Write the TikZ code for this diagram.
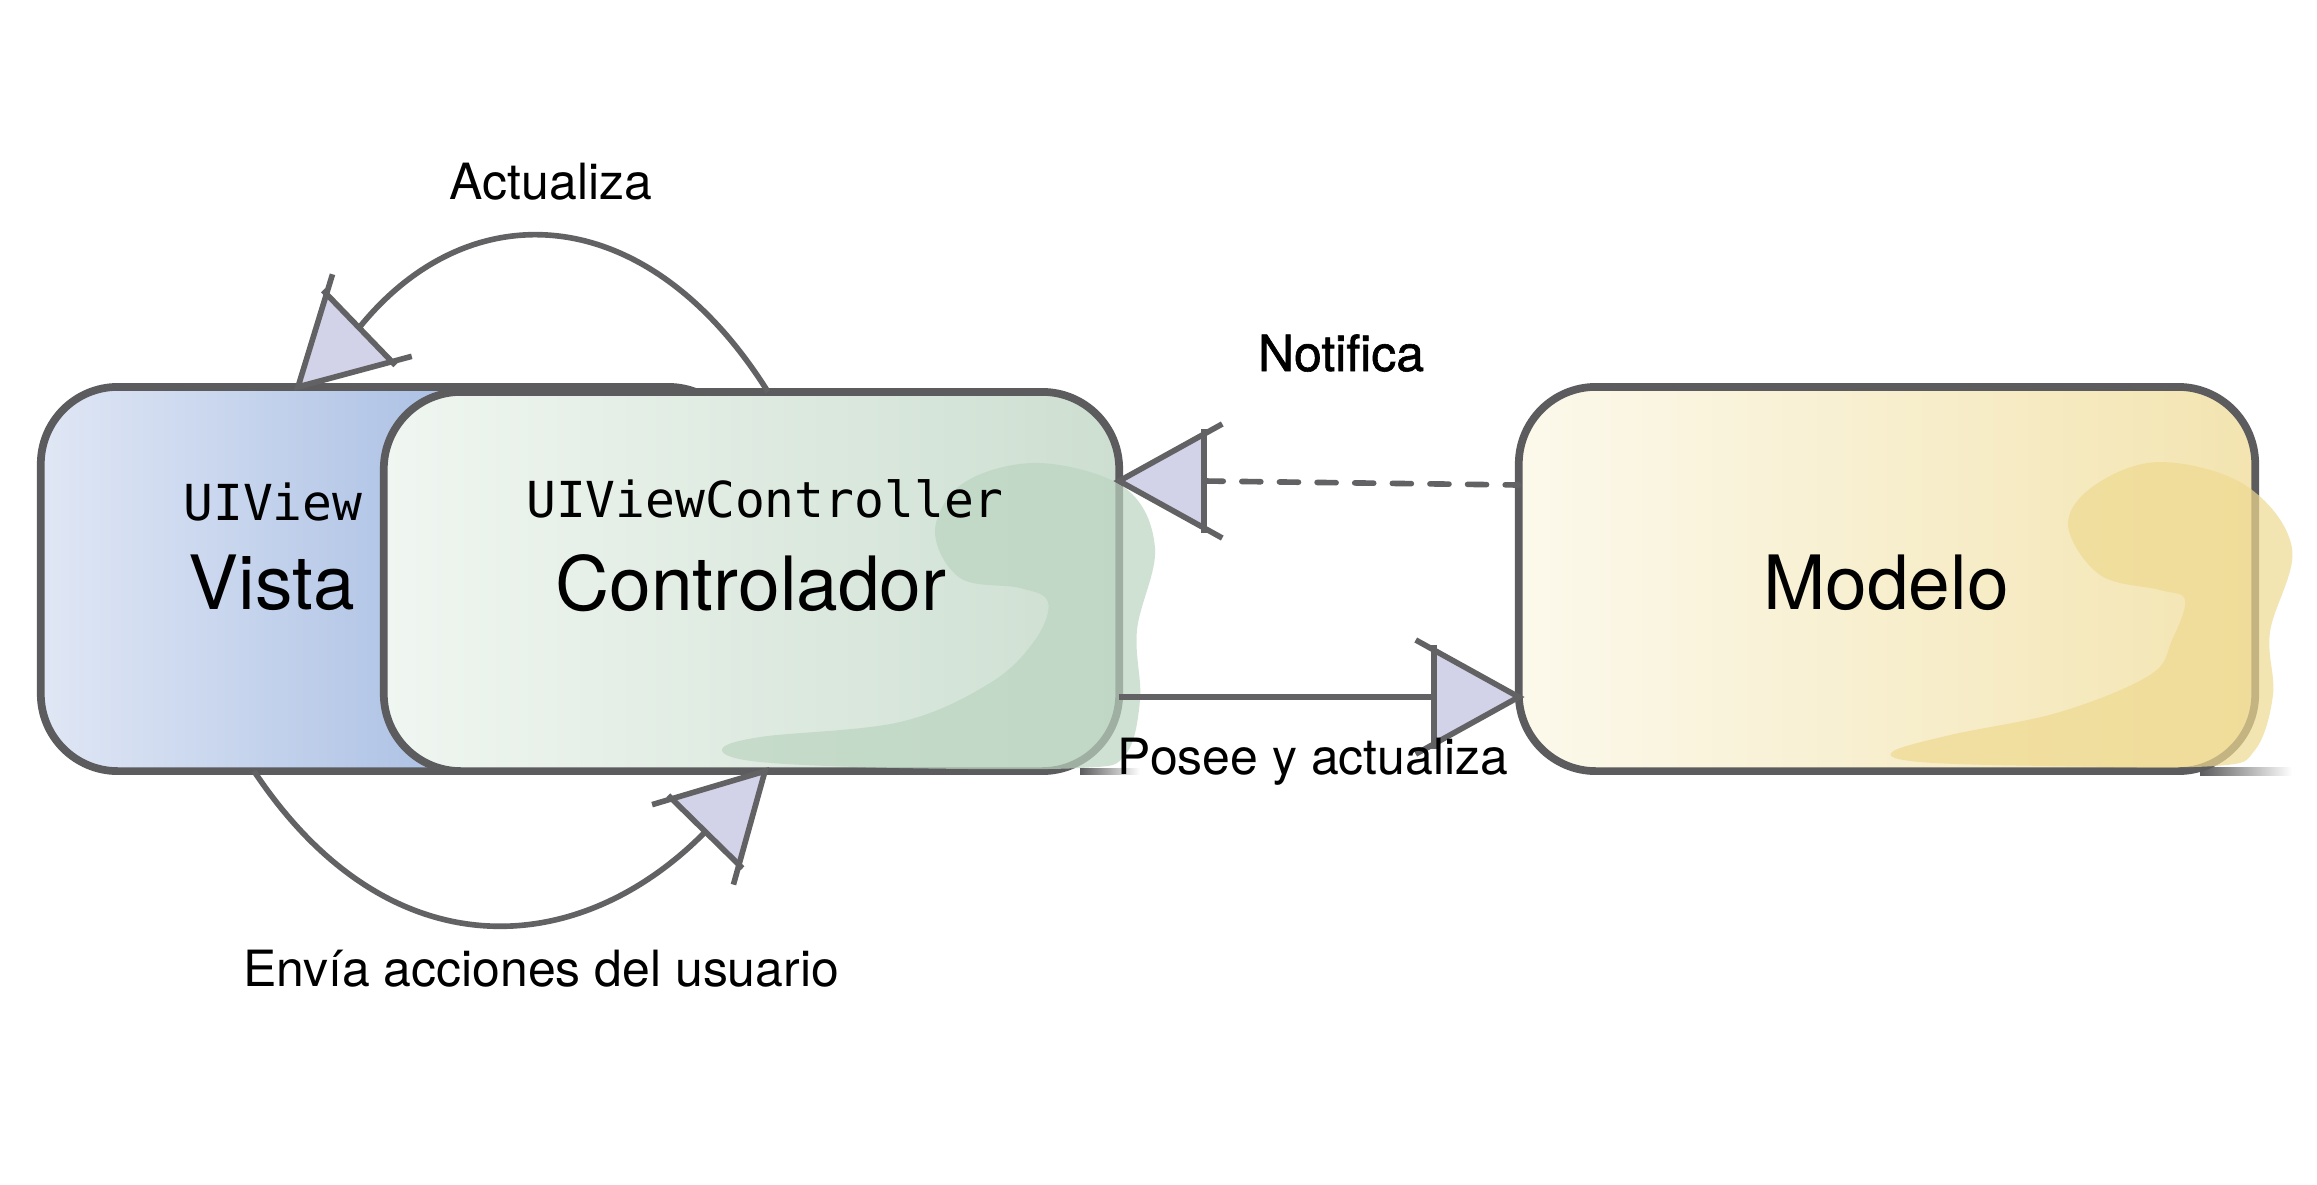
\documentclass[tikz,border=0pt]{standalone}
\usepackage{fontspec}
\setmainfont{TeX Gyre Heros}
\newfontfamily\medfont[FakeBold=1.2]{TeX Gyre Heros}
\newfontfamily\monofont{DejaVu Sans Mono}
\usetikzlibrary{calc}
\definecolor{boxc}{RGB}{92,92,94}
\definecolor{linec}{RGB}{98,98,100}
\definecolor{headfillc}{RGB}{210,210,232}
\definecolor{vistaL}{RGB}{224,231,245}
\definecolor{vistaR}{RGB}{134,165,216}
\definecolor{ctrlL}{RGB}{240,246,241}
\definecolor{ctrlR}{RGB}{205,223,209}
\definecolor{ctrlBlob}{RGB}{188,213,193}
\definecolor{modL}{RGB}{252,249,236}
\definecolor{modR}{RGB}{243,228,176}
\definecolor{modBlob}{RGB}{239,218,145}
\newcommand{\mvchead}[2]{%
  \begin{scope}[shift={(#1)}, rotate=#2]
    \fill[headfillc] (0,0) -- (-0.85cm,0.47cm) -- (-0.85cm,-0.47cm) -- cycle;
    \draw[arrline, line join=miter] (-1.03cm,0.57cm) -- (0,0) -- (-1.03cm,-0.57cm);
    \draw[arrline] (-0.85cm,0.52cm) -- (-0.85cm,-0.52cm);
  \end{scope}}
\begin{document}
\begin{tikzpicture}[x=0.01cm, y=-0.01cm,
  boxnode/.style={draw=boxc, line width=2.2pt, rounded corners=0.77cm, outer sep=0pt, inner sep=0pt},
  arrline/.style={draw=linec, line width=1.6pt},
  dashpat/.style={line cap=round, dash pattern=on 5.4pt off 5.3pt},
  bigtext/.style={font=\fontsize{21.3}{24}\selectfont, anchor=base, inner sep=0pt},
  smalltext/.style={font=\fontsize{14.2}{17}\selectfont, anchor=base, inner sep=0pt},
  monotext/.style={font=\monofont\fontsize{14.1}{17}\selectfont, anchor=base, inner sep=0pt}]
\useasboundingbox (0,0) rectangle (2317,1184);
\fill[white] (0,0) rectangle (2317,1184);

% boxes
\node[boxnode, left color=vistaL, right color=vistaR, minimum width=7.04cm, minimum height=3.84cm] (vista) at (393,579) {};
\node[boxnode, left color=ctrlL, right color=ctrlR, minimum width=7.35cm, minimum height=3.79cm] (ctrl) at (751.5,581.5) {};
\shade[left color=boxc, right color=white] (1080,768) rectangle (1140,774);
\fill[ctrlBlob, opacity=0.7] plot[smooth cycle, tension=0.6] coordinates {
  (1040,463) (1125,488) (1155,548) (1137,630) (1140,700) (1125,755) (1080,768) (900,768)
  (760,762) (722,750) (760,737) (900,722) (990,683) (1035,640) (1048,602) (1020,588)
  (960,578) (935,530) (965,482)};
\shade[left color=boxc, right color=white] (2200,767) rectangle (2292,775);
\node[boxnode, left color=modL, right color=modR, minimum width=7.36cm, minimum height=3.84cm] (modelo) at (1887,579) {};
\fill[modBlob, opacity=0.7] plot[smooth cycle, tension=0.6] coordinates {
  (2160,462) (2245,485) (2292,548) (2270,632) (2273,695) (2255,750) (2215,766) (2050,766)
  (1920,762) (1892,752) (1950,735) (2060,712) (2150,675) (2172,640) (2185,600) (2160,590)
  (2100,575) (2068,525) (2095,485)};

% connectors
\coordinate (aS) at (ctrl.north -| 768,0);
\coordinate (aT) at (vista.north -| 298,0);
\draw[arrline] (aS) .. controls (648,200) and (470,190) .. ($(aT)+(61,-59)$);
\mvchead{aT}{224}

\coordinate (eS) at (vista.south -| 254,0);
\coordinate (eT) at (ctrl.south -| 765,0);
\draw[arrline] (eS) .. controls (389,974) and (579,960) .. ($(eT)+(-60,61)$);
\mvchead{eT}{45.5}

\coordinate (pS) at (ctrl.east |- 0,697);
\coordinate (pT) at (modelo.west |- 0,697);
\draw[arrline] (pS) -- ($(pT)+(-85,0)$);
\mvchead{pT}{0}

\coordinate (nS) at (modelo.west |- 0,485);
\coordinate (nT) at (ctrl.east |- 0,481);
\draw[arrline, dashpat] ($(nT)+(85,0)$) -- (nS);
\mvchead{nT}{180}

% texts
\node[monotext] (tUIView) at (273,520) {UIView};
\node[bigtext] (tVista) at (272,609) {Vista};
\node[monotext] (tUIVC) at (765,517) {UIViewController};
\node[bigtext] (tCtrl) at (751,610) {Controlador};
\node[bigtext] (tModelo) at (1886,609) {Modelo};
\node[smalltext] (tAct) at (551,199) {Actualiza};
\node[smalltext, font=\medfont\fontsize{14.2}{17}\selectfont] (tNot) at (1341,371) {Notifica};
\node[smalltext] (tPos) at (1313,774) {Posee y actualiza};
\node[smalltext] (tEnv) at (541,986) {Envía acciones del usuario};
\end{tikzpicture}
\end{document}
